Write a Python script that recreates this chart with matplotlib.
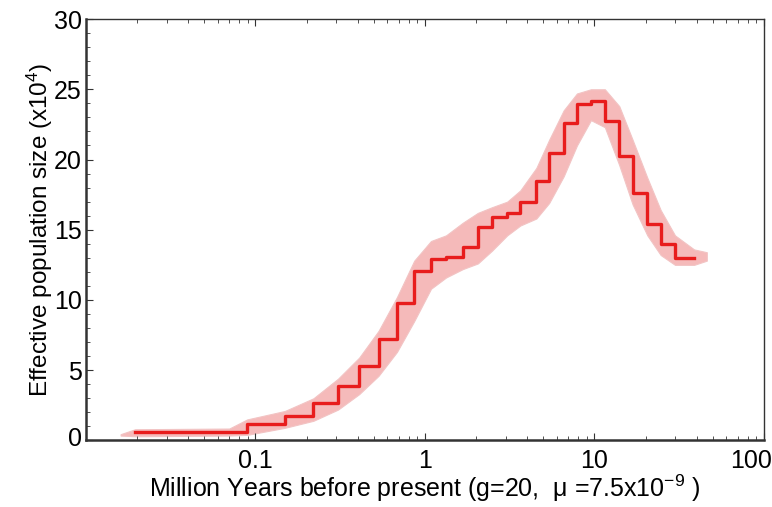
import numpy as np
import matplotlib
matplotlib.use('Agg')
import matplotlib.pyplot as plt
from matplotlib.transforms import ScaledTranslation

plt.rcParams['font.family'] = ['Liberation Sans', 'DejaVu Sans']
plt.rcParams['mathtext.fontset'] = 'custom'
plt.rcParams['mathtext.rm'] = 'Liberation Sans'
plt.rcParams['mathtext.it'] = 'Liberation Sans'
plt.rcParams['mathtext.bf'] = 'Liberation Sans'

# PSMC main estimate: interval edges (million years) and Ne (x10^4) per interval
time_edges = [0.0195, 0.0893, 0.149, 0.2195, 0.307, 0.409, 0.532, 0.683, 0.864,
              1.085, 1.331, 1.672, 2.05, 2.48, 3.056, 3.65, 4.54, 5.40, 6.58,
              7.88, 9.53, 11.51, 14.0, 16.79, 20.5, 24.58, 29.86, 38.7]
ne_values = [0.58, 1.17, 1.77, 2.65, 3.90, 5.32, 7.20, 9.81, 12.04, 12.95, 13.08,
             13.79, 15.22, 15.93, 16.21, 17.00, 18.49, 20.48, 22.58, 23.93, 24.16,
             22.76, 20.25, 17.59, 15.41, 13.96, 12.97]

# bootstrap envelope
band_x = [0.016, 0.0195, 0.07, 0.0893, 0.149, 0.2195, 0.307, 0.409, 0.532, 0.683,
          0.864, 1.085, 1.331, 1.672, 2.05, 2.48, 3.056, 3.65, 4.54, 5.40, 6.58,
          7.88, 9.53, 11.51, 14.0, 16.79, 20.5, 24.58, 29.86, 38.7, 46.0]
band_lo = [0.35, 0.3, 0.35, 0.4, 0.9, 1.4, 2.2, 3.3, 4.6, 6.3, 8.5, 10.8, 11.6,
           12.2, 12.6, 13.5, 14.6, 15.3, 15.8, 16.9, 18.8, 21.0, 22.8, 22.3, 19.6,
           16.8, 14.6, 13.2, 12.5, 12.5, 12.8]
band_hi = [0.45, 0.8, 0.85, 1.5, 2.1, 3.0, 4.4, 5.9, 7.8, 10.2, 12.8, 14.2, 14.6,
           15.5, 16.2, 16.6, 17.0, 17.8, 19.4, 21.4, 23.5, 24.7, 25.0, 25.0, 23.8,
           21.4, 18.7, 16.4, 14.6, 13.6, 13.4]

fig = plt.figure(figsize=(7.72, 5.07), dpi=100)
ax = fig.add_axes([0.1114, 0.1312, 0.8782, 0.8313])

ax.fill_between(band_x, band_lo, band_hi, color='#f5baba', lw=0.8, ec='#f2c4c4')

ax.plot(time_edges, ne_values + [ne_values[-1]], drawstyle='steps-post',
        color='#e81c1c', lw=2.4)

ax.set_xscale('log')
ax.set_xlim(0.01, 100)
ax.set_ylim(0, 30)
ax.set_xticks([0.1, 1, 10, 100])
ax.set_xticklabels(['0.1', '1', '10', '100'])
ax.set_yticks(range(0, 31, 5))
ax.yaxis.set_minor_locator(matplotlib.ticker.MultipleLocator(1))

ax.tick_params(which='both', direction='in', top=True, right=False,
               labelsize=18, color='#333333')
ax.tick_params(which='major', length=5, width=0.8)
ax.tick_params(axis='x', which='major', pad=6)
ax.tick_params(axis='y', which='major', pad=3)
ax.tick_params(which='minor', length=3, width=0.6)

fig.canvas.draw()
lab0 = ax.yaxis.get_major_ticks()[0].label1
lab0.set_transform(lab0.get_transform() + ScaledTranslation(0, 4 / 100, fig.dpi_scale_trans))
lab100 = ax.xaxis.get_major_ticks()[-1].label1
lab100.set_transform(lab100.get_transform() + ScaledTranslation(-13 / 100, 0, fig.dpi_scale_trans))

for side in ['left', 'bottom']:
    ax.spines[side].set_linewidth(1.8)
    ax.spines[side].set_color('#333333')
for side in ['top', 'right']:
    ax.spines[side].set_linewidth(1.0)
    ax.spines[side].set_color('#333333')

ax.set_xlabel('Million Years before present (g=20,  \u03bc =7.5x10$^{-9}$ )',
              fontsize=18, labelpad=0)
ax.set_ylabel('Effective population size (x10$^4$)', fontsize=17.5, labelpad=-1)

fig.savefig('out.png', dpi=100)
